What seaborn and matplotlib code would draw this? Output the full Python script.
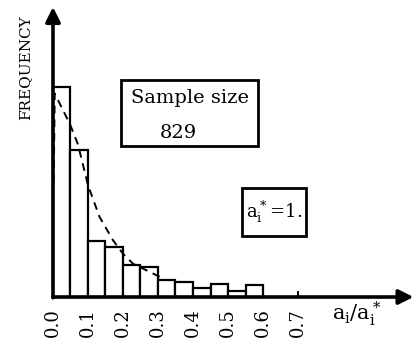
import matplotlib
matplotlib.use("Agg")
import matplotlib.pyplot as plt
from matplotlib.patches import Rectangle
import seaborn as sns
import numpy as np

sns.set_theme(style="white")
plt.rcParams['font.family'] = ['DejaVu Serif', 'DejaVu Sans']
plt.rcParams['mathtext.fontset'] = 'custom'
plt.rcParams['mathtext.rm'] = 'DejaVu Serif'
plt.rcParams['mathtext.it'] = 'DejaVu Serif'
plt.rcParams['text.color'] = 'black'
plt.rcParams['xtick.color'] = 'black'

# histogram of a_i / a_i* (bin width 0.05), sample size 829
bin_edges = [0.0, 0.05, 0.10, 0.15, 0.20, 0.25, 0.30, 0.35, 0.40, 0.45, 0.50, 0.55, 0.60]
counts = [291, 204, 78, 69, 44, 42, 24, 21, 13, 18, 9, 16]

# dashed fitted curve
curve_x = [0.002, 0.005, 0.048, 0.071, 0.100, 0.133, 0.171, 0.200, 0.229, 0.267, 0.305]
curve_y = [160, 282, 240, 212, 155, 111, 79, 60, 46, 37, 28]

tick_vals = [0.0, 0.1, 0.2, 0.3, 0.4, 0.5, 0.6, 0.7]
tick_labels = ["0.0", "0.1", "0.2", "0.3", "0.4", "0.5", "0.6", "0.7"]

fig = plt.figure(figsize=(4.14, 3.47), dpi=100)
ax = fig.add_axes([0, 0, 1, 1])

bin_left = bin_edges[:-1]
sns.histplot(x=bin_left, weights=counts, bins=bin_edges, ax=ax,
             color="white", edgecolor="black", linewidth=1.6, alpha=1)
sns.lineplot(x=curve_x, y=curve_y, ax=ax, color="black", linewidth=1.4,
             linestyle=(0, (4, 3)), sort=False)

ax.set_xlim(-0.1514, 1.0314)
ax.set_ylim(-69.3, 411.7)

for s in ax.spines.values():
    s.set_visible(False)
ax.spines['bottom'].set_position(('data', 0))
ax.spines['left'].set_position(('data', 0))

# axes with arrow heads
ax.annotate('', xy=(1.03, 0), xytext=(0, 0),
            arrowprops=dict(arrowstyle='-|>', lw=2.6, color='black', mutation_scale=22,
                            shrinkA=0, shrinkB=0))
ax.annotate('', xy=(0, 402), xytext=(0, -1),
            arrowprops=dict(arrowstyle='-|>', lw=2.6, color='black', mutation_scale=22,
                            shrinkA=0, shrinkB=0))

ax.set_xticks(tick_vals)
ax.set_xticklabels(tick_labels, rotation=90, fontsize=13)
ax.set_yticks([])
ax.tick_params(axis='x', direction='in', length=4, width=1.4, color='black',
               pad=8, bottom=True)
ax.set_xlabel("")
ax.set_ylabel("")

ax.text(0.060, 0.805, "FREQUENCY", transform=ax.transAxes, rotation=90,
        ha='center', va='center', fontsize=11)
ax.text(0.862, 0.095, r"$\mathrm{a_i/a_i^*}$", transform=ax.transAxes,
        ha='center', va='center', fontsize=15)

ax.add_patch(Rectangle((0.292, 0.579), 0.331, 0.190, transform=ax.transAxes,
                       fill=False, edgecolor='black', linewidth=2.0))
ax.text(0.459, 0.718, "Sample size", transform=ax.transAxes,
        ha='center', va='center', fontsize=14)
ax.text(0.430, 0.617, "829", transform=ax.transAxes,
        ha='center', va='center', fontsize=14)

ax.add_patch(Rectangle((0.585, 0.320), 0.154, 0.138, transform=ax.transAxes,
                       fill=False, edgecolor='black', linewidth=2.0))
ax.text(0.662, 0.389, r"$\mathrm{a_i^*\!=\!1.}$", transform=ax.transAxes,
        ha='center', va='center', fontsize=13)

fig.savefig("out.png", dpi=100)
